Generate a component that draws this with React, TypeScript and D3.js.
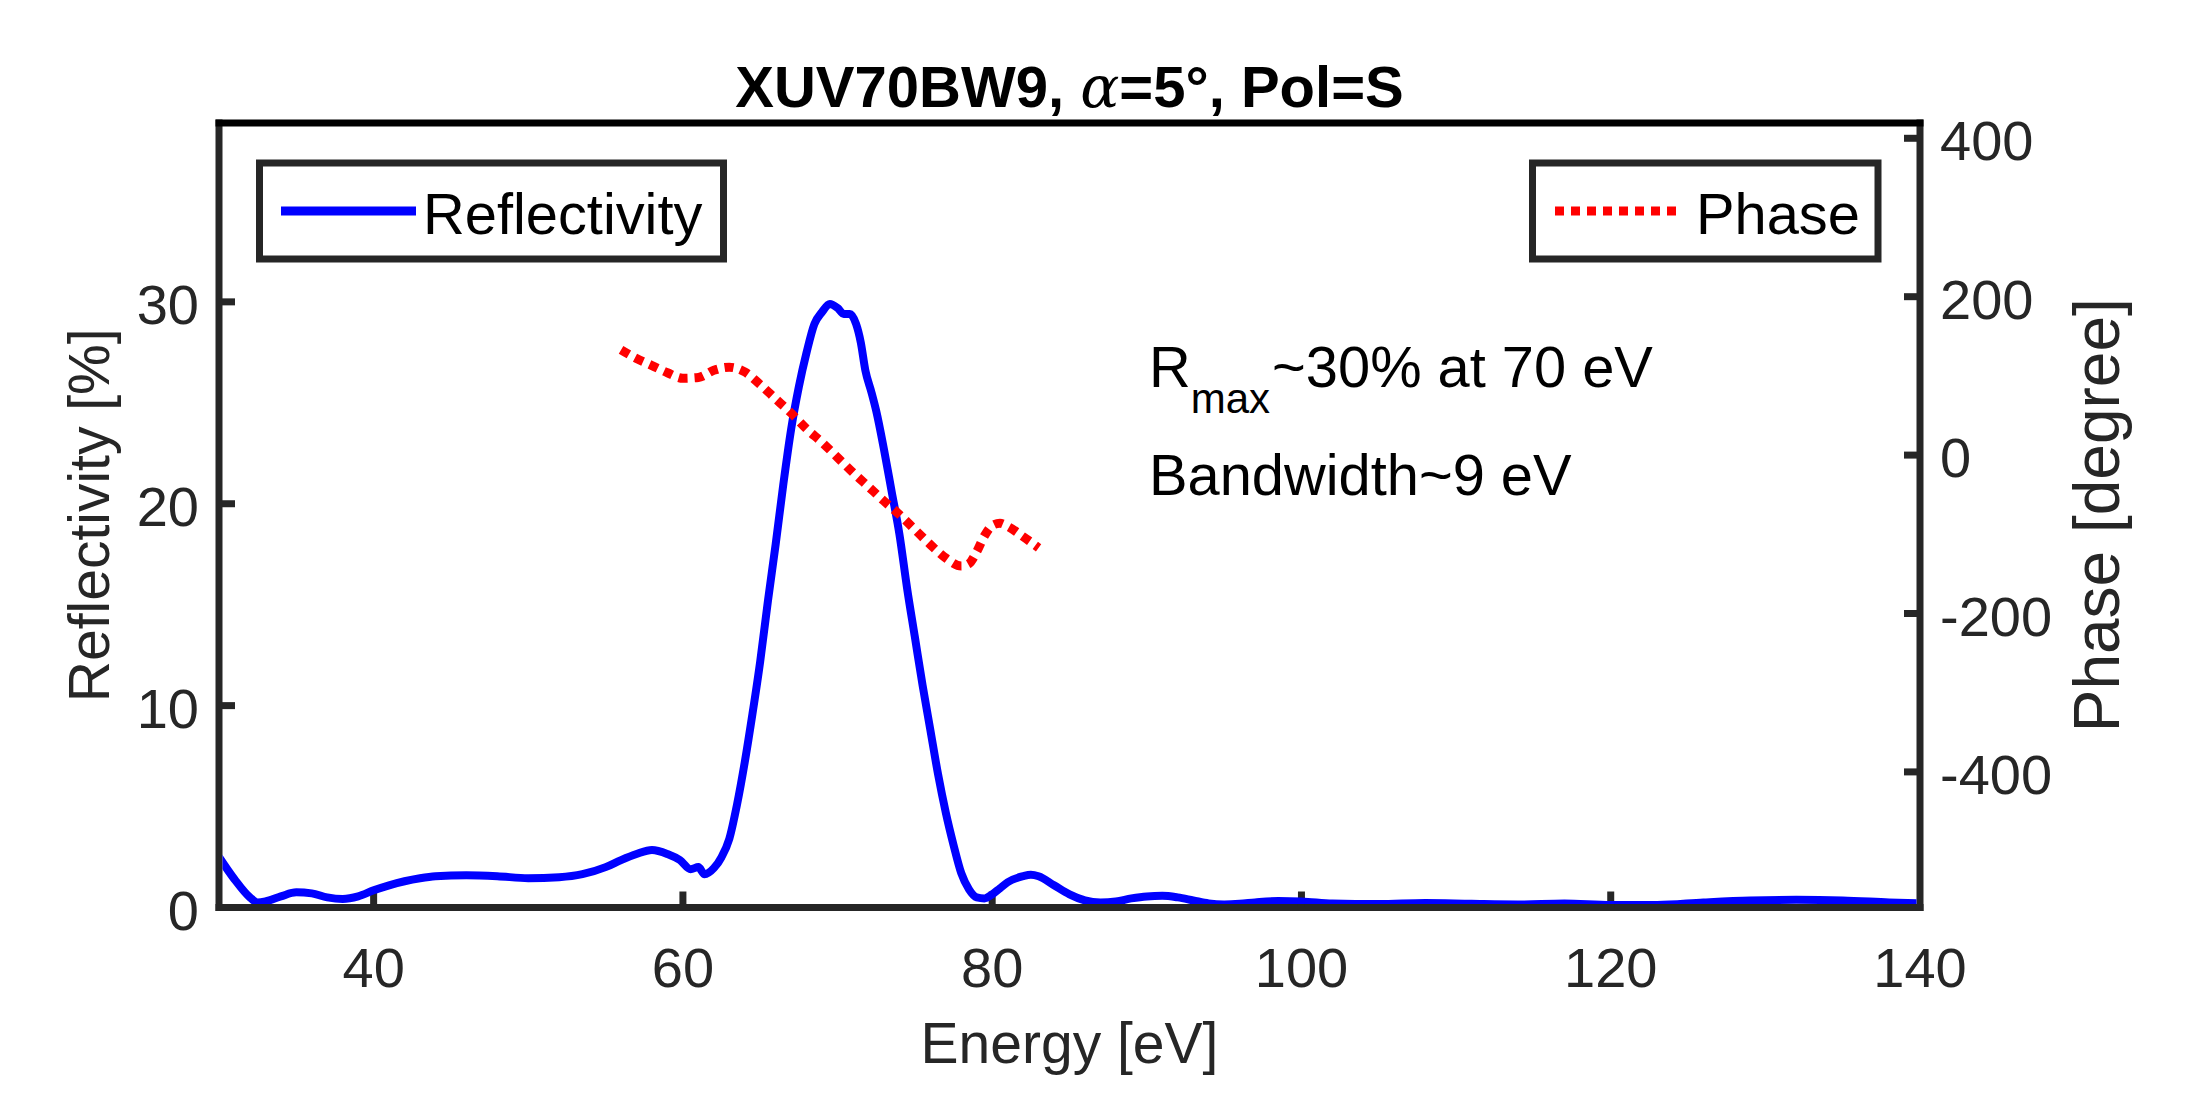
import React from "react";
import * as d3 from "d3";

const energyR = [30, 31, 32, 32.5, 33, 34, 35, 36, 37, 38, 39, 40, 41, 42, 43, 44, 46, 48, 50, 52, 53.5, 55, 56, 57, 58, 59, 59.8, 60.5, 61, 61.4, 62, 62.5, 63, 63.5, 64, 64.5, 65, 65.5, 66, 66.5, 67, 67.5, 68, 68.5, 69, 69.5, 70, 70.4, 70.8, 71.2, 71.5, 71.8, 72.2, 72.5, 73, 73.5, 74, 74.5, 75, 75.5, 76, 76.5, 77, 77.5, 78, 78.5, 79, 79.5, 80, 80.5, 81, 82, 82.5, 83, 84, 85, 86, 87, 88, 89, 90, 91, 92, 93, 94, 95, 96, 97, 98.5, 100, 102, 105, 108, 111, 114, 117, 120, 123, 126, 129, 132, 135, 138, 140];
const reflectivity = [2.5, 1.4, 0.5, 0.25, 0.3, 0.55, 0.75, 0.7, 0.5, 0.42, 0.55, 0.85, 1.1, 1.3, 1.45, 1.55, 1.6, 1.55, 1.45, 1.5, 1.65, 2.0, 2.35, 2.65, 2.85, 2.65, 2.35, 1.9, 2.0, 1.65, 1.95, 2.5, 3.4, 5.1, 7.2, 9.6, 12.2, 15.2, 18, 21, 23.7, 25.8, 27.5, 28.9, 29.5, 29.9, 29.7, 29.4, 29.4, 28.9, 28.0, 26.6, 25.5, 24.6, 22.7, 20.6, 18.5, 15.8, 13.4, 11.0, 8.8, 6.6, 4.7, 3.1, 1.7, 0.9, 0.5, 0.45, 0.65, 0.95, 1.25, 1.55, 1.62, 1.55, 1.1, 0.65, 0.35, 0.25, 0.3, 0.45, 0.55, 0.58, 0.5, 0.35, 0.2, 0.15, 0.18, 0.25, 0.32, 0.3, 0.2, 0.17, 0.22, 0.18, 0.15, 0.2, 0.12, 0.12, 0.25, 0.35, 0.38, 0.35, 0.25, 0.2];

const energyP = [56, 57, 58, 59, 60, 61, 62, 63, 64, 65, 66, 67, 68, 69, 70, 71, 72, 73, 74, 75, 76, 77, 78, 78.5, 79, 79.5, 80, 80.5, 81, 82, 83];
const phase = [133, 122, 113, 104, 97, 98, 107, 111, 105, 89, 71, 53, 33, 16, -3, -22, -40, -58, -75, -94, -113, -130, -140, -137, -122, -102, -89, -86, -90, -103, -117];

const xTicks = [40, 60, 80, 100, 120, 140];
const yLeftTicks = [0, 10, 20, 30];
const yRightTicks = [-400, -200, 0, 200, 400];

const titleMain = "XUV70BW9, ";
const titleAlpha = "α";
const titleRest = "=5°, Pol=S";
const xLabel = "Energy [eV]";
const yLeftLabel = "Reflectivity [%]";
const yRightLabel = "Phase [degree]";
const legendR = "Reflectivity";
const legendP = "Phase";
const noteLine1Main = "R";
const noteLine1Sub = "max";
const noteLine1Rest = "~30% at 70 eV";
const noteLine2 = "Bandwidth~9 eV";

const W = 2187;
const H = 1094;
const L = 219, R = 1920, T = 123, B = 907.5;
const AX = "#262626";
const FONT = "'Liberation Sans', Arial, Helvetica, sans-serif";

export default function App() {
  const x = d3.scaleLinear().domain([30, 140]).range([L, R]);
  const yL = d3.scaleLinear().domain([0, 38.86]).range([B, T]);
  const yR = d3.scaleLinear().domain([-571.2, 419.3]).range([B, T]);

  const lineR = d3
    .line<number>()
    .x((_, i) => x(energyR[i]))
    .y((d) => yL(d))
    .curve(d3.curveMonotoneX);
  const lineP = d3
    .line<number>()
    .x((_, i) => x(energyP[i]))
    .y((d) => yR(d))
    .curve(d3.curveMonotoneX);

  const tickLen = 16;
  const lw = 7;

  return (
    <svg
      width={W}
      height={H}
      style={{ position: "absolute", left: 0, top: 0, background: "#fff" }}
      fontFamily={FONT}
    >
      <rect x={0} y={0} width={W} height={H} fill="#fff" />
      <defs>
        <clipPath id="plotclip">
          <rect x={L + 3.5} y={T + 3.5} width={R - L - 7} height={B - T - 7} />
        </clipPath>
      </defs>

      {/* axes box */}
      <line x1={L} x2={L} y1={T - 3.5} y2={B + 3.5} stroke={AX} strokeWidth={lw} />
      <line x1={R} x2={R} y1={T - 3.5} y2={B + 3.5} stroke={AX} strokeWidth={lw} />
      <line x1={L - 3.5} x2={R + 3.5} y1={B} y2={B} stroke={AX} strokeWidth={lw} />
      <line x1={L - 3.5} x2={R + 3.5} y1={T} y2={T} stroke="#000" strokeWidth={lw} />

      {/* x ticks */}
      {xTicks.map((t) => (
        <g key={"xt" + t}>
          {t < 140 && (
            <line x1={x(t)} x2={x(t)} y1={B} y2={B - tickLen} stroke={AX} strokeWidth={lw} />
          )}
          <text x={x(t)} y={987} textAnchor="middle" fontSize={56} fill={AX}>
            {t}
          </text>
        </g>
      ))}

      {/* left y ticks */}
      {yLeftTicks.map((t) => (
        <g key={"yl" + t}>
          <line x1={L} x2={L + tickLen} y1={yL(t)} y2={yL(t)} stroke={AX} strokeWidth={lw} />
          <text x={199} y={yL(t) + 22} textAnchor="end" fontSize={56} fill={AX}>
            {t}
          </text>
        </g>
      ))}

      {/* right y ticks */}
      {yRightTicks.map((t) => (
        <g key={"yr" + t}>
          <line x1={R} x2={R - tickLen} y1={yR(t)} y2={yR(t)} stroke={AX} strokeWidth={lw} />
          <text x={1940} y={yR(t) + 22} textAnchor="start" fontSize={56} fill={AX}>
            {t}
          </text>
        </g>
      ))}

      {/* data */}
      <g clipPath="url(#plotclip)">
        <path d={lineR(reflectivity) || ""} fill="none" stroke="#0000ff" strokeWidth={8} strokeLinejoin="round" />
        <path
          d={lineP(phase) || ""}
          fill="none"
          stroke="#ff0000"
          strokeWidth={9}
          strokeDasharray="9 7"
        />
      </g>

      {/* legends */}
      <rect x={259.5} y={163} width={464} height={96} fill="#fff" stroke={AX} strokeWidth={lw} />
      <line x1={281} x2={416} y1={211} y2={211} stroke="#0000ff" strokeWidth={9} />
      <text x={423} y={234} fontSize={57.8} fill="#000">{legendR}</text>

      <rect x={1532.5} y={163} width={345.5} height={96} fill="#fff" stroke={AX} strokeWidth={lw} />
      <line x1={1555} x2={1679} y1={211} y2={211} stroke="#ff0000" strokeWidth={9} strokeDasharray="9 7" />
      <text x={1696} y={234} fontSize={57.8} fill="#000">{legendP}</text>

      {/* annotations */}
      <text x={1149} y={387} fontSize={57.8} fill="#000">
        <tspan>{noteLine1Main}</tspan>
        <tspan fontSize={42} dy={26}>{noteLine1Sub}</tspan>
        <tspan dy={-26} dx={2}>{noteLine1Rest}</tspan>
      </text>
      <text x={1149} y={495} fontSize={57.8} fill="#000">{noteLine2}</text>

      {/* title */}
      <text x={(L + R) / 2} y={107} textAnchor="middle" fontSize={58} fontWeight="bold" fill="#000">
        <tspan>{titleMain}</tspan>
        <tspan fontStyle="italic" fontWeight="normal" fontFamily="'DejaVu Serif', 'Liberation Serif', serif">{titleAlpha}</tspan>
        <tspan>{titleRest}</tspan>
      </text>

      {/* axis labels */}
      <text x={(L + R) / 2} y={1063} textAnchor="middle" fontSize={57} fill={AX}>{xLabel}</text>
      <text
        transform={`translate(109, ${(T + B) / 2}) rotate(-90)`}
        textAnchor="middle"
        fontSize={57}
        fill={AX}
      >
        {yLeftLabel}
      </text>
      <text
        transform={`translate(2119, ${(T + B) / 2}) rotate(-90)`}
        textAnchor="middle"
        fontSize={64}
        fill={AX}
      >
        {yRightLabel}
      </text>
    </svg>
  );
}
